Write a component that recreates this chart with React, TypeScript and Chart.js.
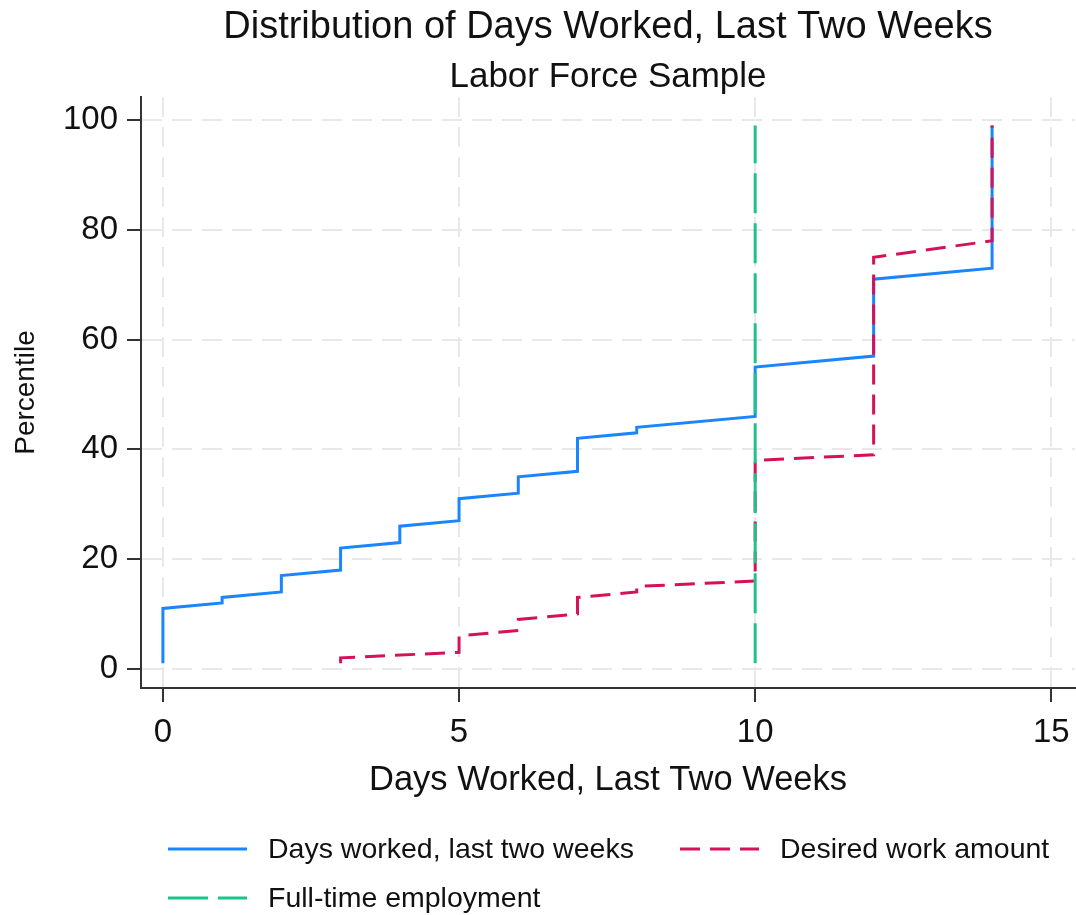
import React, { useEffect, useRef } from 'react';
import { Chart, registerables } from 'chart.js';

Chart.register(...registerables);

const FONT = "'Liberation Sans', Arial, Helvetica, sans-serif";

// Text
const chartTitle = 'Distribution of Days Worked, Last Two Weeks';
const chartSubtitle = 'Labor Force Sample';
const xAxisTitle = 'Days Worked, Last Two Weeks';
const yAxisTitle = 'Percentile';

// Axis ticks
const xTickValues = [0, 5, 10, 15];
const yTickValues = [0, 20, 40, 60, 80, 100];

// Series labels
const seriesLabels = ['Days worked, last two weeks', 'Desired work amount', 'Full-time employment'];

// Days worked in the last two weeks (x) against percentile (y)
const daysWorkedDays = [0, 0, 1, 1, 2, 2, 3, 3, 4, 4, 5, 5, 6, 6, 7, 7, 8, 8, 10, 10, 12, 12, 14, 14];
const daysWorkedPct = [1, 11, 12, 13, 14, 17, 18, 22, 23, 26, 27, 31, 32, 35, 36, 42, 43, 44, 46, 55, 57, 71, 73, 99];

// Desired amount of work
const desiredDays = [3, 3, 5, 5, 6, 6, 7, 7, 8, 8, 10, 10, 12, 12, 14, 14];
const desiredPct = [1, 2, 3, 6, 7, 9, 10, 13, 14, 15, 16, 38, 39, 75, 78, 99];

// Full-time reference line
const fullTimeDays = [10, 10];
const fullTimePct = [1, 99];

const COLORS = ['#1a85ff', '#d41159', '#1fc38a'];
const DASHES: number[][] = [[], [20, 10], [40, 10]];

const toPoints = (xs: number[], ys: number[]) => xs.map((x, i) => ({ x, y: ys[i] }));

// Two-column legend beneath the plot
const gridLegend = {
  id: 'gridLegend',
  afterDraw(chart: any) {
    const ctx: CanvasRenderingContext2D = chart.ctx;
    const slots = [
      { x: 168, y: 849 },
      { x: 680, y: 849 },
      { x: 168, y: 898 },
    ];
    const sampleLen = 79;
    chart.data.datasets.forEach((ds: any, i: number) => {
      const s = slots[i];
      if (!s) return;
      ctx.save();
      ctx.strokeStyle = ds.borderColor;
      ctx.lineWidth = 3;
      ctx.setLineDash(ds.borderDash || []);
      ctx.beginPath();
      ctx.moveTo(s.x, s.y);
      ctx.lineTo(s.x + sampleLen, s.y);
      ctx.stroke();
      ctx.setLineDash([]);
      ctx.fillStyle = '#111';
      ctx.font = `28.5px ${FONT}`;
      ctx.textBaseline = 'middle';
      ctx.textAlign = 'left';
      ctx.fillText(ds.label, s.x + 100, s.y + 1);
      ctx.restore();
    });
  },
};

export default function App() {
  const canvasRef = useRef<HTMLCanvasElement | null>(null);

  useEffect(() => {
    const canvas = canvasRef.current;
    if (!canvas) return;

    const series = [
      toPoints(daysWorkedDays, daysWorkedPct),
      toPoints(desiredDays, desiredPct),
      toPoints(fullTimeDays, fullTimePct),
    ];

    const chart = new Chart(canvas, {
      type: 'line',
      data: {
        datasets: series.map((data, i) => ({
          label: seriesLabels[i],
          data,
          borderColor: COLORS[i],
          backgroundColor: COLORS[i],
          borderWidth: 3,
          borderDash: DASHES[i],
          pointRadius: 0,
          tension: 0,
          fill: false,
          order: 3 - i,
        })),
      },
      options: {
        responsive: false,
        devicePixelRatio: 1,
        animation: false,
        events: [],
        layout: { padding: { top: 0, left: 0, right: 1, bottom: 107 } },
        plugins: {
          legend: { display: false },
          tooltip: { enabled: false },
          title: {
            display: true,
            text: chartTitle,
            color: '#111',
            fullSize: false,
            font: { family: FONT, size: 38, weight: 'normal', lineHeight: 1.2 },
            padding: { top: 5, bottom: 0 },
          },
          subtitle: {
            display: true,
            text: chartSubtitle,
            color: '#111',
            fullSize: false,
            font: { family: FONT, size: 35, weight: 'normal', lineHeight: 1.1 },
            padding: { top: 7.2, bottom: 0.75 },
          },
        },
        scales: {
          x: {
            type: 'linear',
            min: -0.37,
            max: 15.4,
            afterBuildTicks: (scale: any) => {
              scale.ticks = xTickValues.map((v) => ({ value: v }));
            },
            afterFit: (scale: any) => {
              scale.height = 120;
              scale.paddingLeft = 0;
              scale.paddingRight = 0;
            },
            ticks: {
              color: '#111',
              padding: 11,
              maxRotation: 0,
              font: { family: FONT, size: 33 },
            },
            grid: {
              color: '#e8e8e8',
              lineWidth: 2,
              drawTicks: true,
              tickLength: 14,
              tickColor: '#333',
              tickWidth: 2,
            },
            border: { display: true, color: '#333', width: 2, dash: [20, 10] },
            title: {
              display: true,
              text: xAxisTitle,
              color: '#111',
              font: { family: FONT, size: 34.5 },
              padding: { top: 0, bottom: 7.3 },
            },
          },
          y: {
            type: 'linear',
            min: -3.5,
            max: 104.2,
            afterBuildTicks: (scale: any) => {
              scale.ticks = yTickValues.map((v) => ({ value: v }));
            },
            afterFit: (scale: any) => {
              scale.width = 141;
            },
            ticks: {
              color: '#111',
              padding: 9,
              font: { family: FONT, size: 33 },
            },
            grid: {
              color: '#e8e8e8',
              lineWidth: 2,
              drawTicks: true,
              tickLength: 14,
              tickColor: '#333',
              tickWidth: 2,
            },
            border: { display: true, color: '#333', width: 2, dash: [20, 10] },
            title: {
              display: true,
              text: yAxisTitle,
              color: '#111',
              font: { family: FONT, size: 28 },
              padding: { top: 9, bottom: 0 },
            },
          },
        },
      },
      plugins: [gridLegend],
    } as any);

    return () => chart.destroy();
  }, []);

  return (
    <div style={{ position: 'absolute', left: 0, top: 0, width: 1076, height: 915, background: '#fff' }}>
      <canvas ref={canvasRef} width={1076} height={915} style={{ display: 'block' }} />
    </div>
  );
}
